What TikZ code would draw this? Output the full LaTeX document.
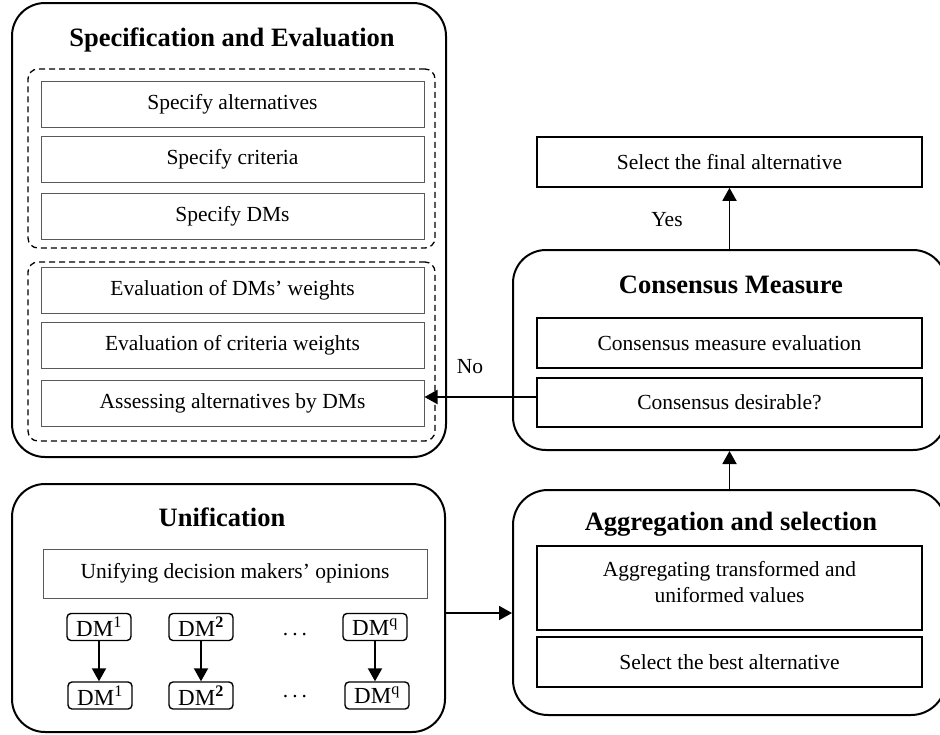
\documentclass[tikz,border=0pt]{standalone}
\usepackage{fontspec}
\setmainfont{Liberation Serif}
\usetikzlibrary{arrows.meta}
\tikzset{
  outerbox/.style={draw=black, line width=2pt, rounded corners=33pt, inner sep=0pt},
  dashbox/.style={draw=black, line width=1.3pt, dash pattern=on 6pt off 4pt, rounded corners=10pt, inner sep=0pt},
  graybox/.style={draw=black!65, line width=1pt, inner sep=0pt, minimum width=383pt, minimum height=46pt,
    font=\fontsize{21.5}{26}\selectfont},
  blackbox/.style={draw=black, line width=1.7pt, inner sep=0pt, minimum width=385pt, minimum height=49pt,
    font=\fontsize{21.5}{26}\selectfont},
  dmbox/.style={draw=black, line width=1.4pt, rounded corners=4pt, inner sep=0pt, minimum width=64pt,
    minimum height=27pt, font=\fontsize{23}{24}\selectfont},
  titletext/.style={inner sep=0pt, font=\fontsize{26.5}{30}\selectfont\bfseries},
  bodytext/.style={inner sep=0pt, font=\fontsize{21.5}{26}\selectfont},
  arr/.style={line width=1.9pt, -{Triangle[length=13pt,width=14pt]}},
}
\begin{document}
\begin{tikzpicture}[x=1pt,y=-1pt]
\useasboundingbox (0,0) rectangle (940,734);

% Specification and Evaluation
\node[outerbox, minimum width=434pt, minimum height=454pt] (spec) at (229,230) {};
\node[titletext] (spectitle) at (232,40) {Specification and Evaluation};
\node[dashbox, minimum width=407pt, minimum height=179pt] (dashA) at (231.5,158.5) {};
\node[dashbox, minimum width=407pt, minimum height=179pt] (dashB) at (231.5,351.5) {};
\node[graybox] (s1) at (232.5,104) {Specify alternatives};
\node[graybox] (s2) at (232.5,159) {Specify criteria};
\node[graybox] (s3) at (232.5,216) {Specify DMs};
\node[graybox] (s4) at (232.5,290) {Evaluation of DMs’ weights};
\node[graybox] (s5) at (232.5,345) {Evaluation of criteria weights};
\node[graybox] (assess) at (232.5,403) {Assessing alternatives by DMs};

% Final alternative
\node[blackbox, minimum height=50pt] (final) at (729.5,162) {Select the final alternative};

% Consensus Measure
\node[outerbox, minimum width=433pt, minimum height=200pt] (cons) at (729.5,350) {};
\node[titletext] (constitle) at (731,285) {Consensus Measure};
\node[blackbox, minimum height=50pt] (ceval) at (729.5,343) {Consensus measure evaluation};
\node[blackbox] (desir) at (729.5,402.5) {Consensus desirable?};

% Aggregation and selection
\node[outerbox, rounded corners=35pt, minimum width=433pt, minimum height=225pt] (agg) at (729.5,602.5) {};
\node[titletext] (aggtitle) at (731,524) {Aggregation and selection};
\node[blackbox, minimum height=84pt] (aggbox) at (729.5,588) {};
\node[bodytext, align=center] (aggtxt) at (729.5,582) {Aggregating transformed and\\uniformed values};
\node[blackbox, minimum height=50pt] (best) at (729.5,662) {Select the best alternative};

% Unification
\node[outerbox, minimum width=433pt, minimum height=248pt] (unif) at (228.5,608) {};
\node[titletext] (uniftitle) at (222,517) {Unification};
\node[graybox, minimum width=384pt, minimum height=49pt] (unify) at (235,573.5) {Unifying decision makers’ opinions};

\node[dmbox] (a1) at (99,627) {DM\textsuperscript{1}};
\node[dmbox] (a2) at (201,627) {DM\textsuperscript{\textbf{2}}};
\node[dmbox] (aq) at (375,627) {DM\textsuperscript{q}};
\node[dmbox] (b1) at (100,695.5) {DM\textsuperscript{1}};
\node[dmbox] (b2) at (201,695.5) {DM\textsuperscript{\textbf{2}}};
\node[dmbox] (bq) at (377,695.5) {DM\textsuperscript{q}};
\node[bodytext, anchor=base] (dotsA) at (295,635) {.\hspace{4pt}.\hspace{4pt}.};
\node[bodytext, anchor=base] (dotsB) at (295,697) {.\hspace{4pt}.\hspace{4pt}.};

\draw[arr] (a1.south) -- (a1.south |- b1.north);
\draw[arr] (a2.south) -- (a2.south |- b2.north);
\draw[arr] (aq.south) -- (aq.south |- bq.north);

% Connectors
\coordinate (uy) at (0,613);
\draw[arr] (unif.east |- uy) -- (agg.west |- uy);
\draw[arr] (agg.north) -- (cons.south);
\draw[arr] (cons.north) -- (final.south);
\draw[arr] ([yshift=5.5pt]desir.west) -- ([yshift=5.5pt]desir.west -| assess.east);

\node[bodytext] (yes) at (667,220) {Yes};
\node[bodytext] (no) at (470,367) {No};
\end{tikzpicture}
\end{document}
